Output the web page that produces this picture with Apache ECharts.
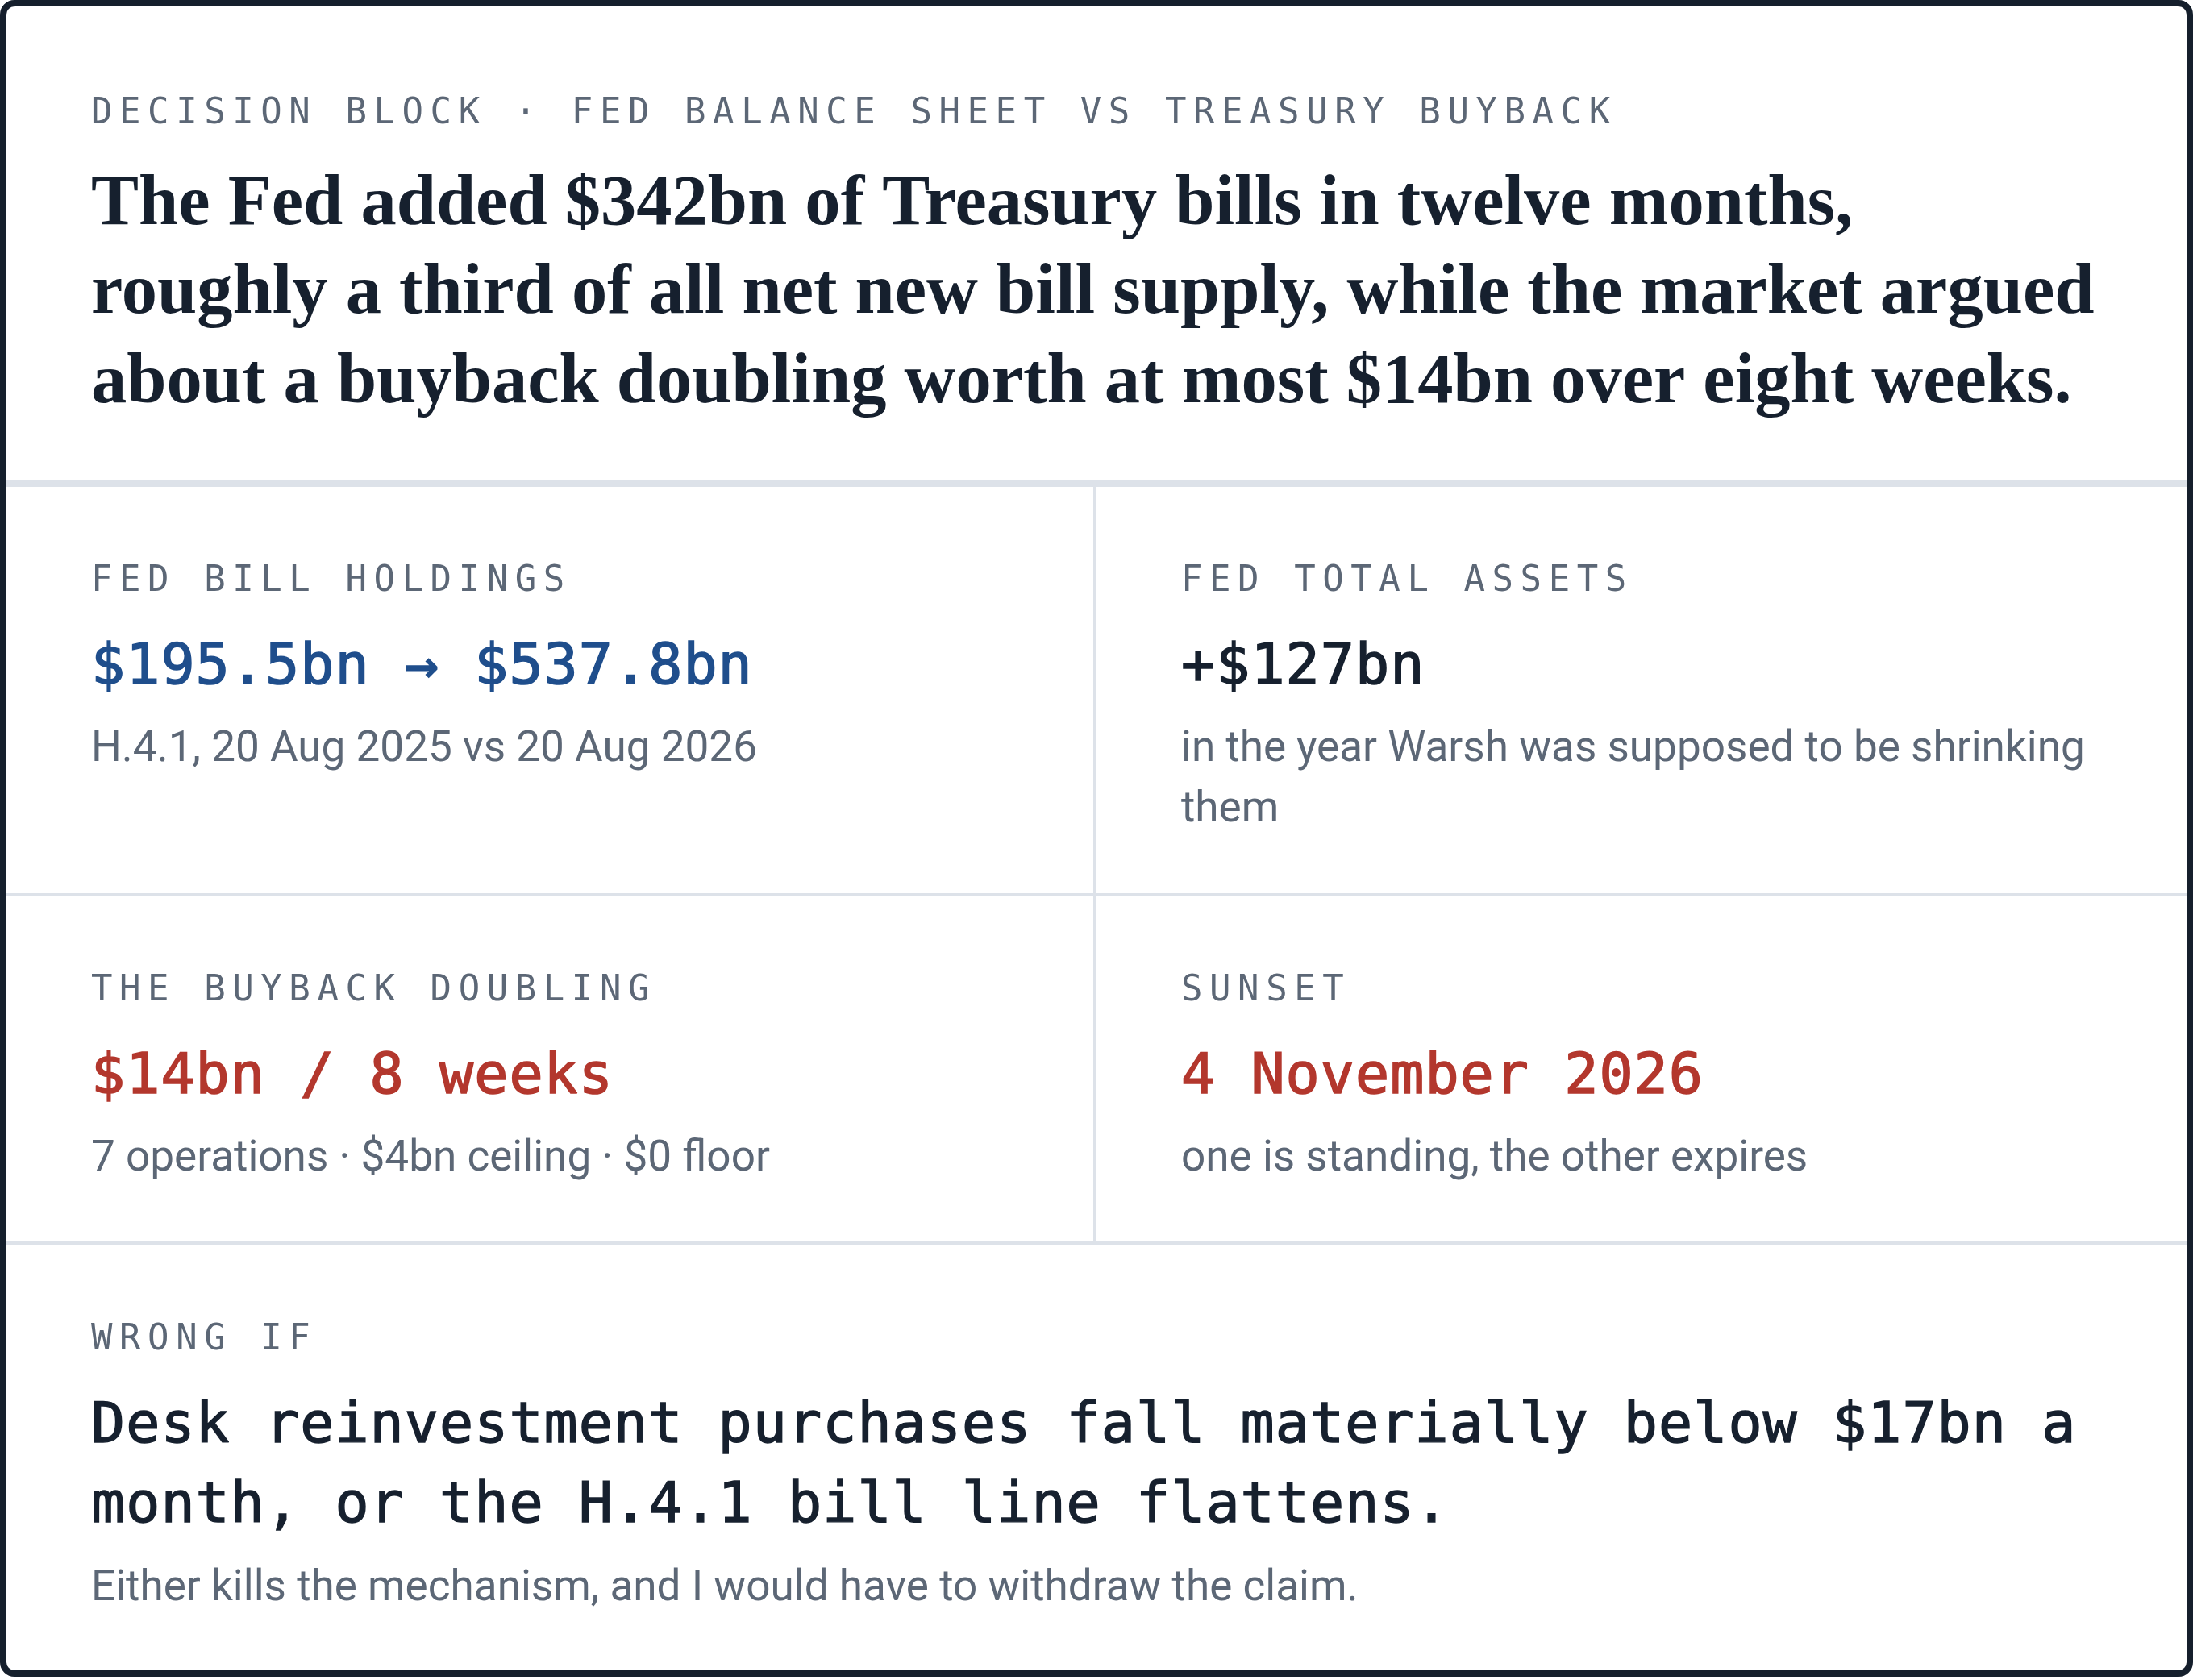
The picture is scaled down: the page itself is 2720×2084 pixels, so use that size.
<!DOCTYPE html>
<html lang="en">
<head>
<meta charset="UTF-8">
<title>Decision block · Fed balance sheet vs Treasury buyback</title>
<script src="https://cdn.jsdelivr.net/npm/echarts@6/dist/echarts.min.js"></script>
<style>
  html, body { margin: 0; padding: 0; background: #fff; }
  #card { width: 2720px; height: 2084px; }
</style>
</head>
<body>
<div id="card"></div>
<script>
    // ---- content ----
    const kicker = 'DECISION BLOCK · FED BALANCE SHEET VS TREASURY BUYBACK';
    const headline = [
        'The Fed added $342bn of Treasury bills in twelve months,',
        'roughly a third of all net new bill supply, while the market argued',
        'about a buyback doubling worth at most $14bn over eight weeks.'
    ];
    const cellLabels = ['FED BILL HOLDINGS', 'FED TOTAL ASSETS', 'THE BUYBACK DOUBLING', 'SUNSET'];
    const cellValues = ['$195.5bn → $537.8bn', '+$127bn', '$14bn / 8 weeks', '4 November 2026'];
    const cellNotes = [
        ['H.4.1, 20 Aug 2025 vs 20 Aug 2026'],
        ['in the year Warsh was supposed to be shrinking', 'them'],
        ['7 operations · $4bn ceiling · $0 floor'],
        ['one is standing, the other expires']
    ];
    const cellTone = ['blue', 'ink', 'red', 'red'];
    const wrongLabel = 'WRONG IF';
    const wrongText = [
        'Desk reinvestment purchases fall materially below $17bn a',
        'month, or the H.4.1 bill line flattens.'
    ];
    const wrongNote = 'Either kills the mechanism, and I would have to withdraw the claim.';

    // ---- look ----
    const INK = '#16202e', GRAY = '#5c6776', RULE = '#dde2e9', EDGE = '#151f2c';
    const TONES = {ink: INK, blue: '#1f4e8c', red: '#b3372d'};
    const MONO = '"DejaVu Sans Mono", "Liberation Mono", monospace';
    const SERIF = '"Liberation Serif", "DejaVu Serif", serif';
    const SANS = 'Roboto, "Noto Sans", sans-serif';

    const ctx = document.createElement('canvas').getContext('2d');
    function widthOf(str, font) {
        ctx.font = font;
        return ctx.measureText(str).width;
    }
    // font size that makes str span `target` px
    function fit(str, family, weight, target) {
        return 100 * target / widthOf(str, weight + ' 100px ' + family);
    }

    // zrender draws text around the middle line; shift so `base` is roughly the baseline
    function text(str, x, base, size, family, weight, fill, thick) {
        const style = {
            text: str, font: weight + ' ' + size + 'px ' + family, fill: fill,
            align: 'left', verticalAlign: 'middle'
        };
        if (thick) { style.stroke = fill; style.lineWidth = thick; }
        return {type: 'text', x: x, y: base - 0.27 * size, silent: true, style: style};
    }

    // monospace text laid out glyph by glyph at a fixed step (letter-spacing)
    function mono(str, x, base, size, step, fill, thick) {
        const out = [];
        str.split('').forEach((ch, i) => {
            if (ch !== ' ') out.push(text(ch, x + i * step, base, size, MONO, 'normal', fill, thick));
        });
        return out;
    }

    const serifSize = fit(headline[1], SERIF, 'bold', 2485);
    const sansSize = fit(wrongNote, SANS, 'normal', 1572);

    const LEFT = 113, RIGHT = 1465;
    const LABEL_STEP = 35.05, VALUE_STEP = 43.2;

    const els = [];
    // card
    els.push({type: 'rect', silent: true, shape: {x: 4, y: 4, width: 2712, height: 2072, r: 14},
        style: {fill: '#fff', stroke: EDGE, lineWidth: 8}});
    // rules
    els.push({type: 'rect', silent: true, shape: {x: 8, y: 596, width: 2704, height: 8}, style: {fill: RULE}});
    els.push({type: 'rect', silent: true, shape: {x: 8, y: 1108, width: 2704, height: 4}, style: {fill: RULE}});
    els.push({type: 'rect', silent: true, shape: {x: 8, y: 1540, width: 2704, height: 4}, style: {fill: RULE}});
    els.push({type: 'rect', silent: true, shape: {x: 1356, y: 604, width: 4, height: 936}, style: {fill: RULE}});

    // header
    els.push(...mono(kicker, LEFT, 153, 44, LABEL_STEP, GRAY));
    headline.forEach((line, i) => els.push(text(line, LEFT, 279 + i * 110.5, serifSize, SERIF, 'bold', INK)));

    // 2x2 cells
    const rowTop = [0, 508];
    cellLabels.forEach((label, i) => {
        const x = i % 2 ? RIGHT : LEFT;
        const dy = rowTop[Math.floor(i / 2)];
        els.push(...mono(label, x, 733 + dy, 44, LABEL_STEP, GRAY));
        els.push(...mono(cellValues[i], x, 849 + dy, 70, VALUE_STEP, TONES[cellTone[i]], 1.6));
        cellNotes[i].forEach((line, j) => els.push(text(line, x, 945 + dy + j * 75, sansSize, SANS, 'normal', GRAY)));
    });

    // wrong-if block
    els.push(...mono(wrongLabel, LEFT, 1674, 44, LABEL_STEP, GRAY));
    wrongText.forEach((line, i) => els.push(...mono(line, LEFT, 1790 + i * 99, 70, VALUE_STEP, INK, 1.4)));
    els.push(text(wrongNote, LEFT, 1986, sansSize, SANS, 'normal', GRAY));

    const chart = echarts.init(document.getElementById('card'), null, {renderer: 'canvas'});
    chart.setOption({
        backgroundColor: '#fff',
        animation: false,
        graphic: {elements: els}
    });
</script>
</body>
</html>
